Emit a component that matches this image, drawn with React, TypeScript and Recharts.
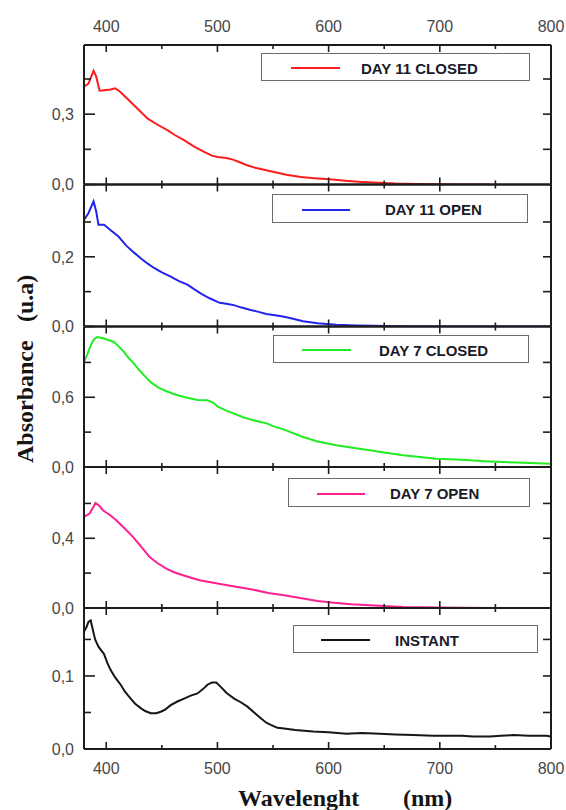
import React from 'react';
import { LineChart, Line, XAxis, YAxis, Legend } from 'recharts';

const W = 566;
const H = 810;
const PLOT_LEFT = 84;
const PLOT_RIGHT = 551;
const PANEL_EDGES = [45, 184.5, 326.5, 467, 608, 749];

// X axis ticks (nm)
const wavelengthTicks = [400, 500, 600, 700, 800];
const wavelengthMinorTicks = [450, 550, 650, 750];

// DAY 11 CLOSED
const day11ClosedWl = [380, 384, 388.6, 391, 394, 398, 404, 408, 412, 418, 425, 431, 437, 445, 455, 462, 470, 478, 488, 495, 500, 508, 514, 520, 526, 535, 550, 562, 575, 590, 601, 615, 630, 646, 660, 680, 700, 720, 745];
const day11ClosedAbs = [0.417, 0.43, 0.485, 0.46, 0.4, 0.402, 0.405, 0.41, 0.398, 0.37, 0.338, 0.31, 0.282, 0.258, 0.232, 0.21, 0.189, 0.165, 0.139, 0.123, 0.117, 0.113, 0.106, 0.095, 0.083, 0.07, 0.054, 0.042, 0.032, 0.026, 0.022, 0.016, 0.011, 0.007, 0.004, 0.002, 0.001, 0.0, 0.0];

// DAY 11 OPEN
const day11OpenWl = [380, 384, 388.6, 391, 393, 398, 404, 411, 418, 425, 431, 437, 443, 450, 458, 465, 473, 480, 486, 493, 502, 508, 514, 521, 529, 537, 544, 552, 560, 568, 577, 590, 607, 625, 640, 660, 700, 750, 800];
const day11OpenAbs = [0.306, 0.325, 0.359, 0.33, 0.292, 0.292, 0.276, 0.258, 0.232, 0.212, 0.196, 0.181, 0.168, 0.155, 0.143, 0.131, 0.12, 0.105, 0.093, 0.081, 0.068, 0.065, 0.062, 0.055, 0.048, 0.042, 0.036, 0.032, 0.028, 0.022, 0.015, 0.009, 0.005, 0.003, 0.002, 0.001, 0.0, 0.0, 0.0];

// DAY 7 CLOSED
const day7ClosedWl = [380, 383, 386, 389, 392, 398, 407, 411, 416, 420, 425, 430, 434, 440, 446, 452, 460, 470, 482, 491, 496, 500, 507, 515, 522, 530, 545, 550, 560, 577, 590, 607, 620, 637, 650, 667, 680, 697, 710, 727, 740, 757, 775, 800];
const day7ClosedAbs = [0.904, 0.97, 1.047, 1.1, 1.119, 1.105, 1.076, 1.04, 0.99, 0.94, 0.89, 0.83, 0.789, 0.73, 0.69, 0.66, 0.63, 0.602, 0.576, 0.574, 0.555, 0.522, 0.49, 0.459, 0.432, 0.408, 0.373, 0.352, 0.322, 0.258, 0.22, 0.187, 0.168, 0.144, 0.125, 0.101, 0.088, 0.072, 0.066, 0.058, 0.05, 0.043, 0.036, 0.027];

// DAY 7 OPEN
const day7OpenWl = [380, 385, 388, 390.4, 394, 397, 403, 409, 416, 424, 431, 439, 446, 454, 461, 469, 477, 484, 500, 514, 530, 547, 560, 577, 590, 607, 620, 637, 650, 667, 697, 720, 750, 800];
const day7OpenAbs = [0.522, 0.542, 0.575, 0.603, 0.585, 0.561, 0.535, 0.503, 0.46, 0.408, 0.355, 0.293, 0.258, 0.226, 0.205, 0.188, 0.172, 0.159, 0.14, 0.125, 0.108, 0.085, 0.073, 0.054, 0.04, 0.029, 0.022, 0.016, 0.011, 0.006, 0.003, 0.001, 0.0, 0.0];

// INSTANT
const instantWl = [380, 382, 384, 386, 388, 390, 393, 398, 401, 404, 408, 413, 417, 422, 426, 431, 435, 440, 445, 449, 453, 458, 464, 470, 476, 482, 487, 491, 495, 499, 503, 508, 515, 521, 527, 533, 539, 544, 548, 554, 560, 570, 586, 600, 616, 630, 646, 660, 676, 694, 706, 720, 730, 745, 755, 766, 780, 796, 800];
const instantAbs = [0.161, 0.166, 0.174, 0.176, 0.163, 0.15, 0.14, 0.13, 0.118, 0.108, 0.098, 0.088, 0.078, 0.069, 0.062, 0.056, 0.052, 0.049, 0.049, 0.051, 0.054, 0.06, 0.065, 0.069, 0.073, 0.076, 0.082, 0.088, 0.091, 0.091, 0.085, 0.077, 0.069, 0.064, 0.058, 0.05, 0.042, 0.036, 0.033, 0.029, 0.028, 0.026, 0.024, 0.023, 0.021, 0.022, 0.021, 0.02, 0.019, 0.018, 0.018, 0.018, 0.017, 0.017, 0.018, 0.019, 0.018, 0.018, 0.017];

// Y tick labels per panel (major = labelled, minor = tick only)
const day11ClosedTicks = [0, 0.3];
const day11ClosedMinor = [0.15, 0.45];
const day11OpenTicks = [0, 0.2];
const day11OpenMinor = [0.1, 0.3];
const day7ClosedTicks = [0, 0.6];
const day7ClosedMinor = [0.3, 0.9];
const day7OpenTicks = [0, 0.4];
const day7OpenMinor = [0.2, 0.6];
const instantTicks = [0, 0.1];
const instantMinor = [0.05, 0.15];

type LegendPos = { left: number; top: number; width: number; height: number; lineLeft: number; lineWidth: number; textLeft: number };
type PanelCfg = {
  name: string;
  color: string;
  wl: number[];
  abs: number[];
  yMax: number;
  major: number[];
  minor: number[];
  legend: LegendPos;
};

const panels: PanelCfg[] = [
  { name: 'DAY 11 CLOSED', color: '#ff1c1c', wl: day11ClosedWl, abs: day11ClosedAbs, yMax: 0.595, major: day11ClosedTicks, minor: day11ClosedMinor,
    legend: { left: 261, top: 53, width: 269, height: 28, lineLeft: 29, lineWidth: 49, textLeft: 99 } },
  { name: 'DAY 11 OPEN', color: '#2323ee', wl: day11OpenWl, abs: day11OpenAbs, yMax: 0.4075, major: day11OpenTicks, minor: day11OpenMinor,
    legend: { left: 272, top: 194, width: 256, height: 29, lineLeft: 29, lineWidth: 48, textLeft: 112 } },
  { name: 'DAY 7 CLOSED', color: '#22ec22', wl: day7ClosedWl, abs: day7ClosedAbs, yMax: 1.209, major: day7ClosedTicks, minor: day7ClosedMinor,
    legend: { left: 273, top: 335, width: 256, height: 28, lineLeft: 28, lineWidth: 49, textLeft: 105 } },
  { name: 'DAY 7 OPEN', color: '#ff1f8f', wl: day7OpenWl, abs: day7OpenAbs, yMax: 0.809, major: day7OpenTicks, minor: day7OpenMinor,
    legend: { left: 288, top: 478, width: 242, height: 29, lineLeft: 28, lineWidth: 48, textLeft: 101 } },
  { name: 'INSTANT', color: '#161616', wl: instantWl, abs: instantAbs, yMax: 0.193, major: instantTicks, minor: instantMinor,
    legend: { left: 293, top: 625, width: 245, height: 28, lineLeft: 27, lineWidth: 49, textLeft: 101 } },
];

const AXIS = '#1d1d1d';
const LABEL_FONT = '"Liberation Sans", Arial, sans-serif';
const fmtComma = (v: number) => v.toFixed(1).replace('.', ',');

type Side = 'left' | 'right' | 'top' | 'bottom';

// Custom tick: draws inward tick mark (major longer than minor) and the optional label.
function makeTick(side: Side, majors: number[], showLabels: boolean, fmt: (v: number) => string) {
  return (props: any) => {
    const { x, y, payload } = props;
    const v = payload.value as number;
    const isMajor = majors.indexOf(v) >= 0;
    let len: number;
    let x2 = x;
    let y2 = y;
    let label: React.ReactNode = null;
    if (side === 'left') {
      len = isMajor ? 11 : 7;
      x2 = x + len;
      if (showLabels && isMajor) {
        label = (
          <text x={x - 10} y={y} dy="0.36em" textAnchor="end" fill="#474747" fontSize={16} fontFamily={LABEL_FONT}>
            {fmt(v)}
          </text>
        );
      }
    } else if (side === 'right') {
      len = 8;
      x2 = x - len;
    } else if (side === 'top') {
      len = isMajor ? 7 : 4;
      y2 = y + len;
      if (showLabels && isMajor) {
        label = (
          <text x={x} y={y - 13.5} textAnchor="middle" fill="#474747" fontSize={16} fontFamily={LABEL_FONT}>
            {fmt(v)}
          </text>
        );
      }
    } else {
      len = isMajor ? 7 : 4;
      y2 = y - len;
      if (showLabels && isMajor) {
        label = (
          <text x={x} y={y + 24.5} textAnchor="middle" fill="#474747" fontSize={16} fontFamily={LABEL_FONT}>
            {fmt(v)}
          </text>
        );
      }
    }
    return (
      <g>
        <line x1={x} y1={y} x2={x2} y2={y2} stroke={AXIS} strokeWidth={1.6} />
        {label}
      </g>
    );
  };
}

function LegendBox({ payload, pos }: { payload: any[]; pos: LegendPos }) {
  const item = payload && payload[0];
  if (!item) return null;
  return (
    <div
      style={{
        position: 'relative',
        width: pos.width,
        height: pos.height,
        boxSizing: 'border-box',
        border: '1.5px solid #6c6c6c',
        background: '#fff',
      }}
    >
      <div
        style={{
          position: 'absolute',
          left: pos.lineLeft,
          width: pos.lineWidth,
          top: '50%',
          height: 2,
          background: item.color,
        }}
      />
      <div
        style={{
          position: 'absolute',
          left: pos.textLeft,
          top: 0,
          bottom: 0,
          display: 'flex',
          alignItems: 'center',
          paddingTop: 2,
          fontFamily: LABEL_FONT,
          fontWeight: 700,
          fontSize: 15,
          color: '#1b1b28',
          whiteSpace: 'nowrap',
        }}
      >
        {item.value}
      </div>
    </div>
  );
}

function Panel({ cfg, index }: { cfg: PanelCfg; index: number }) {
  const top = PANEL_EDGES[index];
  const bottom = PANEL_EDGES[index + 1];
  const data = cfg.wl.map((w, i) => ({ wl: w, abs: cfg.abs[i] }));
  const isFirst = index === 0;
  const isLast = index === panels.length - 1;
  const yTicks = [...cfg.major, ...cfg.minor].sort((a, b) => a - b);
  const rightTicks = yTicks.filter((t) => t > 0);
  const xTicks = [...wavelengthTicks, ...wavelengthMinorTicks].sort((a, b) => a - b);
  const xDomain: [number, number] = [380, 800];
  const yDomain: [number, number] = [0, cfg.yMax];
  const axisLineStyle = { stroke: AXIS, strokeWidth: 2 };
  const idFmt = (v: number) => String(v);
  return (
    <div style={{ position: 'absolute', left: 0, top: 0, width: W, height: H }}>
      <LineChart
        width={W}
        height={H}
        data={data}
        margin={{ top: top - 1, bottom: H - bottom - 1, left: PLOT_LEFT - 1, right: W - PLOT_RIGHT - 1 }}
      >
        <XAxis xAxisId="b" dataKey="wl" type="number" domain={xDomain} allowDataOverflow ticks={xTicks}
          interval={0} height={1} orientation="bottom" tickSize={0} tickMargin={0}
          tick={makeTick('bottom', wavelengthTicks, isLast, idFmt)} axisLine={axisLineStyle} tickLine={false} />
        <XAxis xAxisId="t" dataKey="wl" type="number" domain={xDomain} allowDataOverflow ticks={xTicks}
          interval={0} height={1} orientation="top" tickSize={0} tickMargin={0}
          tick={makeTick('top', wavelengthTicks, isFirst, idFmt)} axisLine={axisLineStyle} tickLine={false} />
        <YAxis yAxisId="l" dataKey="abs" type="number" domain={yDomain} allowDataOverflow ticks={yTicks} interval={0}
          width={1} orientation="left" tickSize={0} tickMargin={0}
          tick={makeTick('left', cfg.major, true, fmtComma)} axisLine={axisLineStyle} tickLine={false} />
        <YAxis yAxisId="r" dataKey="abs" type="number" domain={yDomain} allowDataOverflow ticks={rightTicks} interval={0}
          width={1} orientation="right" tickSize={0} tickMargin={0}
          tick={makeTick('right', cfg.major, false, fmtComma)} axisLine={axisLineStyle} tickLine={false} />
        <Legend
          layout="vertical"
          align="center"
          verticalAlign="middle"
          wrapperStyle={{ left: cfg.legend.left, top: cfg.legend.top, width: cfg.legend.width, height: cfg.legend.height, margin: 0, padding: 0 }}
          content={(props: any) => <LegendBox payload={props.payload} pos={cfg.legend} />}
        />
        <Line xAxisId="b" yAxisId="l" type="linear" dataKey="abs" name={cfg.name} stroke={cfg.color}
          strokeWidth={2} dot={false} activeDot={false} isAnimationActive={false} />
      </LineChart>
    </div>
  );
}

export default function App() {
  return (
    <div style={{ position: 'absolute', left: 0, top: 0, width: W, height: H, background: '#fff', overflow: 'hidden' }}>
      {panels.map((p, i) => (
        <Panel key={p.name} cfg={p} index={i} />
      ))}
      <svg width={W} height={H} style={{ position: 'absolute', left: 0, top: 0, pointerEvents: 'none' }}>
        <text
          transform="translate(33, 463) rotate(-90)"
          fontFamily='"Liberation Serif", "Times New Roman", serif'
          fontWeight={700}
          fontSize={24}
          fill="#151515"
        >
          <tspan x={0}>Absorbance</tspan>
          <tspan x={141}>(u.a)</tspan>
        </text>
        <text
          y={806}
          fontFamily='"Liberation Serif", "Times New Roman", serif'
          fontWeight={700}
          fontSize={24}
          fill="#151515"
        >
          <tspan x={238}>Wavelenght</tspan>
          <tspan x={403}>(nm)</tspan>
        </text>
      </svg>
    </div>
  );
}
